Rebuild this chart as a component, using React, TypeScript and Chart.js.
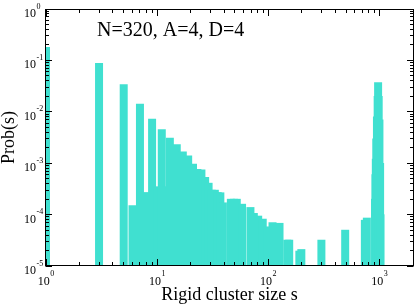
import React, { useEffect, useRef } from 'react';
import { Chart, registerables } from 'chart.js';

Chart.register(...registerables);

// Rigid cluster sizes s (bar centres) and their probabilities
const clusterSizes = [
  1, 3, 5, 6, 7, 8, 9, 10, 11, 12, 13, 15, 17, 19, 21, 23, 25, 27, 29, 31, 33, 35, 37, 39,
  46, 49, 52, 58, 69, 74, 81, 89, 99, 109, 126, 148, 154, 190, 198, 300, 491, 738, 769,
  911, 919, 926, 935, 948, 962, 971, 982, 998, 1012, 1020,
];
const probabilities = [
  0.18, 0.088, 0.034, 1.5e-4, 0.0142, 2.7e-4, 0.0072, 3.5e-4, 0.0045, 3.5e-4, 0.0031, 0.0023,
  0.00167, 0.0014, 9.6e-4, 7.6e-4, 7.4e-4, 5.3e-4, 4.1e-4, 3.0e-4, 3.0e-4, 2.7e-4, 2.67e-4,
  1.7e-4, 2.0e-4, 2.0e-4, 2.0e-4, 1.6e-4, 1.38e-4, 1.06e-4, 9.4e-5, 8.2e-5, 5.8e-5, 7.0e-5,
  6.8e-5, 3.2e-5, 3.2e-5, 1.96e-5, 2.1e-5, 3.2e-5, 5.0e-5, 7.8e-5, 8.6e-5,
  2e-4, 6e-4, 1.2e-3, 3e-3, 8e-3, 0.02, 0.037, 0.02, 0.007, 1e-3, 1e-4,
];

const xMin = 1;
const xMax = 2000;
const yMin = 1e-5;
const yMax = 1;
const xMajorTicks = [1, 10, 100, 1000];
const xTickExponents = ['0', '1', '2', '3'];
const yMajorTicks = [1, 0.1, 0.01, 0.001, 0.0001, 0.00001];
const yTickExponents = ['0', '-1', '-2', '-3', '-4', '-5'];
const annotationText = 'N=320, A=4, D=4';
const xTitle = 'Rigid cluster size s';
const yTitle = 'Prob(s)';

const SERIF = '"Liberation Serif", "Times New Roman", serif';

const graceAxes = {
  id: 'graceAxes',
  afterDatasetsDraw(chart: any) {
    const { ctx, chartArea: a, scales } = chart;
    const xs = scales.x;
    const ys = scales.y;
    const L = a.left - 0.5;
    const R = a.right + 0.5;
    const T = a.top + 0.5;
    const B = a.bottom - 0.5;
    const majorLen = 6.5;
    const minorLen = 3.5;
    ctx.save();
    ctx.strokeStyle = '#000';
    ctx.lineWidth = 1;

    // x ticks (bottom and top, pointing inward)
    ctx.beginPath();
    for (let k = 0; k <= 3; k++) {
      for (let m = 1; m <= 9; m++) {
        const v = m * Math.pow(10, k);
        if (v < xMin || v >= xMax) continue;
        const len = m === 1 ? majorLen : minorLen;
        const px = Math.floor(xs.getPixelForValue(v)) + 0.5;
        ctx.moveTo(px, B);
        ctx.lineTo(px, B - len);
        ctx.moveTo(px, T);
        ctx.lineTo(px, T + len);
      }
    }
    // y ticks (left and right, pointing inward)
    for (let k = -5; k <= 0; k++) {
      for (let m = 1; m <= 9; m++) {
        const v = m * Math.pow(10, k);
        if (v < yMin || v > yMax) continue;
        if (k === 0 && m > 1) continue;
        const len = m === 1 ? majorLen : minorLen;
        const py = Math.floor(ys.getPixelForValue(v)) + 0.5;
        ctx.moveTo(L, py);
        ctx.lineTo(L + len, py);
        ctx.moveTo(R, py);
        ctx.lineTo(R - len, py);
      }
    }
    ctx.stroke();

    // frame
    ctx.strokeRect(L, T, R - L, B - T);

    // tick labels
    ctx.fillStyle = '#000';
    ctx.textBaseline = 'alphabetic';
    ctx.textAlign = 'left';
    const digitFont = '12px ' + SERIF;
    const expFont = '8px ' + SERIF;
    xMajorTicks.forEach((v, i) => {
      const px = xs.getPixelForValue(v);
      ctx.font = digitFont;
      const w1 = ctx.measureText('10').width;
      ctx.font = expFont;
      const w2 = ctx.measureText(xTickExponents[i]).width;
      const gap = 0.5;
      const x0 = px - (w1 + gap + w2) / 2;
      const base = a.bottom + 18.7;
      ctx.font = digitFont;
      ctx.fillText('10', x0, base);
      ctx.font = expFont;
      ctx.fillText(xTickExponents[i], x0 + w1 + gap, base - 8.5);
    });
    yMajorTicks.forEach((v, i) => {
      const py = ys.getPixelForValue(v);
      const x0 = a.left - 22;
      const base = py + 8;
      ctx.font = digitFont;
      const w1 = ctx.measureText('10').width;
      ctx.fillText('10', x0, base);
      ctx.font = expFont;
      ctx.fillText(yTickExponents[i], x0 + w1 + 0.5, base - 8.5);
    });

    // axis titles
    ctx.font = '18px ' + SERIF;
    ctx.textAlign = 'center';
    ctx.fillText(xTitle, (a.left + a.right) / 2, 300);
    ctx.save();
    ctx.translate(14, (a.top + a.bottom) / 2);
    ctx.rotate(-Math.PI / 2);
    ctx.fillText(yTitle, 0, 0);
    ctx.restore();

    // annotation
    ctx.font = '20px ' + SERIF;
    ctx.textAlign = 'left';
    ctx.fillText(annotationText, 97, 36);

    ctx.restore();
  },
};

export default function App() {
  const canvasRef = useRef<HTMLCanvasElement | null>(null);

  useEffect(() => {
    document.body.style.margin = '0';
    const canvas = canvasRef.current;
    if (!canvas) return;
    const chart = new Chart(canvas, {
      type: 'bar',
      data: {
        datasets: [
          {
            data: clusterSizes.map((s, i) => ({ x: s, y: probabilities[i] })),
            backgroundColor: '#40E0D0',
            borderWidth: 0,
            barThickness: 7.4,
            inflateAmount: 0.3,
            clip: 0,
          } as any,
        ],
      },
      options: {
        animation: false,
        responsive: true,
        maintainAspectRatio: false,
        events: [],
        layout: { padding: { left: 46, top: 9, right: 2, bottom: 40 } },
        plugins: {
          legend: { display: false },
          tooltip: { enabled: false },
          title: { display: false },
        },
        scales: {
          x: {
            type: 'logarithmic',
            min: xMin,
            max: xMax,
            offset: false,
            display: false,
            grid: { display: false },
          },
          y: {
            type: 'logarithmic',
            min: yMin,
            max: yMax,
            display: false,
            grid: { display: false },
          },
        },
      },
      plugins: [graceAxes],
    });
    return () => chart.destroy();
  }, []);

  return (
    <div style={{ position: 'absolute', left: 0, top: 0, width: 415, height: 306, background: '#fff' }}>
      <canvas ref={canvasRef} />
    </div>
  );
}
